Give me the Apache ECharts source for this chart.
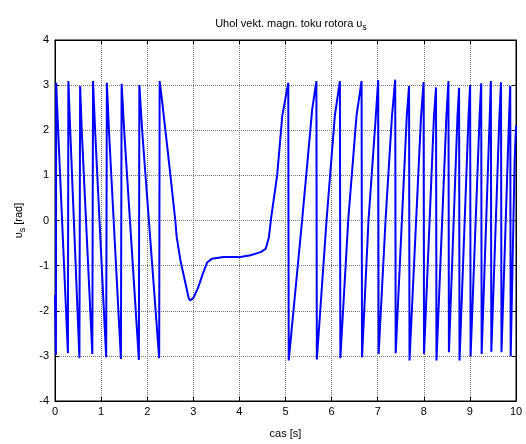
<!DOCTYPE html>
<html>
<head>
<meta charset="utf-8">
<script src="https://cdn.jsdelivr.net/npm/echarts@6/dist/echarts.min.js"></script>
<style>
  html, body { margin: 0; padding: 0; background: #fff; }
  #chart { width: 526px; height: 444px; }
</style>
</head>
<body>
<div id="chart"></div>
<script>
// cas [s]
const time = [
  0, 0.02, 0.025, 0.07, 0.28,
  0.29, 0.33, 0.53,
  0.545, 0.58, 0.81,
  0.825, 0.87, 1.11,
  1.125, 1.17, 1.43,
  1.445, 1.50, 1.82,
  1.83, 1.89, 2.26,
  2.27, 2.31, 2.45, 2.61, 2.64, 2.72, 2.83, 2.90, 2.93, 3.0, 3.1, 3.2, 3.3, 3.4, 3.66, 4.02, 4.24, 4.46, 4.57, 4.64, 4.69, 4.82, 4.93, 5.06,
  5.07, 5.36, 5.58, 5.67,
  5.68, 5.89, 6.07, 6.18,
  6.19, 6.36, 6.54, 6.65,
  6.66, 6.80, 6.96, 7.01,
  7.02, 7.17, 7.31, 7.38,
  7.39, 7.63, 7.68,
  7.69, 7.94, 7.995,
  8.005, 8.22, 8.265,
  8.275, 8.49, 8.535,
  8.545, 8.73, 8.765,
  8.775, 8.97, 9.005,
  9.015, 9.21, 9.245,
  9.255, 9.43, 9.455,
  9.465, 9.64, 9.675,
  9.685, 9.85, 9.875,
  9.885, 9.97, 10.0
];

// uhol [rad]
const angle = [
  -1.65, -2.98, 3.05, 1.95, -2.94,
  3.09, 2.0, -3.05,
  2.98, 2.0, -2.96,
  3.09, 2.0, -3.03,
  3.05, 2.0, -3.07,
  3.03, 2.0, -3.09,
  3.0, 2.0, -3.05,
  3.09, 2.76, 1.5, 0, -0.37, -0.88, -1.39, -1.72, -1.77, -1.72, -1.5, -1.2, -0.93, -0.85, -0.81, -0.81, -0.77, -0.70, -0.63, -0.37, 0.07, 1.01, 2.32, 3.05,
  -3.10, 0, 2.47, 3.09,
  -3.08, 0, 2.32, 3.09,
  -3.05, 0, 2.32, 3.09,
  -3.03, 0, 2.32, 3.11,
  -2.96, 0, 2.32, 3.12,
  -2.94, 2.3, 2.98,
  -3.10, 2.3, 3.07,
  -2.96, 2.3, 2.95,
  -3.10, 2.3, 3.09,
  -2.92, 2.3, 2.94,
  -3.10, 2.3, 3.0,
  -3.01, 2.3, 3.04,
  -2.96, 2.3, 3.09,
  -2.91, 2.3, 3.06,
  -2.92, 2.3, 2.98,
  -3.01, 1.3, 2.1
];

const points = time.map((t, i) => [t, angle[i]]);

const chart = echarts.init(document.getElementById('chart'));

const font = 'Liberation Sans, Arial, sans-serif';
const gridLine = { show: true, lineStyle: { color: '#777', type: 'dotted', width: 1 } };

const option = {
  backgroundColor: '#fff',
  animation: false,
  title: {
    text: '{a|Uhol vekt. magn. toku rotora υ}{s|s}',
    left: 286,
    top: 10,
    textAlign: 'center',
    textStyle: {
      fontWeight: 'normal',
      rich: {
        a: { fontFamily: font, fontSize: 11, color: '#000', fontWeight: 'normal', lineHeight: 14 },
        s: { fontFamily: font, fontSize: 9, color: '#000', fontWeight: 'normal', padding: [8, 0, 0, 0] }
      }
    }
  },
  grid: { left: 55, right: 10, top: 40, bottom: 38, show: true, borderColor: '#000', borderWidth: 1 },
  xAxis: [
    {
      type: 'value', min: 0, max: 10, interval: 1,
      name: 'cas [s]', nameLocation: 'middle', nameGap: 27,
      nameTextStyle: { fontFamily: font, fontSize: 11, color: '#000' },
      axisLine: { show: true, onZero: false, lineStyle: { color: '#000' } },
      axisTick: { show: true, inside: true, length: 4, lineStyle: { color: '#000' } },
      axisLabel: { fontFamily: font, fontSize: 11, color: '#000', margin: 5 },
      splitLine: gridLine
    },
    {
      type: 'value', min: 0, max: 10, interval: 1, position: 'top',
      axisLine: { show: true, onZero: false, lineStyle: { color: '#000' } },
      axisTick: { show: true, inside: true, length: 4, lineStyle: { color: '#000' } },
      axisLabel: { show: false },
      splitLine: { show: false }
    }
  ],
  yAxis: [
    {
      type: 'value', min: -4, max: 4, interval: 1,
      name: '{a|υ}{s|s}{a| [rad]}', nameLocation: 'middle', nameGap: 28, nameRotate: 90,
      nameTextStyle: {
        rich: {
          a: { fontFamily: font, fontSize: 11, color: '#000', lineHeight: 14 },
          s: { fontFamily: font, fontSize: 9, color: '#000', padding: [8, 0, 0, 0] }
        }
      },
      axisLine: { show: true, onZero: false, lineStyle: { color: '#000' } },
      axisTick: { show: true, inside: true, length: 4, lineStyle: { color: '#000' } },
      axisLabel: { fontFamily: font, fontSize: 11, color: '#000', margin: 6 },
      splitLine: gridLine
    },
    {
      type: 'value', min: -4, max: 4, interval: 1, position: 'right',
      axisLine: { show: true, onZero: false, lineStyle: { color: '#000' } },
      axisTick: { show: true, inside: true, length: 4, lineStyle: { color: '#000' } },
      axisLabel: { show: false },
      splitLine: { show: false }
    }
  ],
  series: [{
    type: 'line',
    data: points,
    showSymbol: false,
    symbol: 'none',
    lineStyle: { color: '#0000ff', width: 2 },
    z: 5
  }]
};

chart.setOption(option);
</script>
</body>
</html>
